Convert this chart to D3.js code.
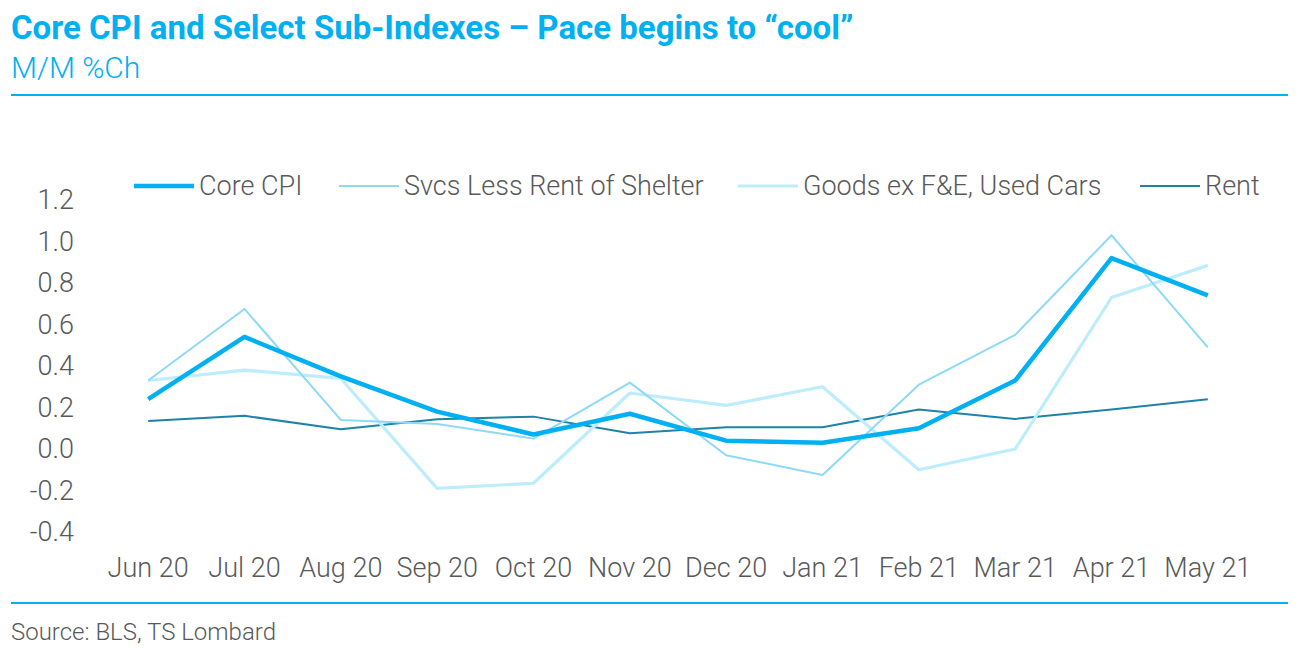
<!DOCTYPE html>
<html>
<head>
<meta charset="utf-8">
<script src="https://cdn.jsdelivr.net/npm/d3@7"></script>
<style>
	body { margin: 0; background: #fff; }
	svg { display: block; font-family: Roboto, "Noto Sans", sans-serif; }
</style>
</head>
<body>
<svg id="chart" width="1298" height="655"></svg>
<script>
"use strict";

// chart data
const months = ["Jun 20", "Jul 20", "Aug 20", "Sep 20", "Oct 20", "Nov 20",
	"Dec 20", "Jan 21", "Feb 21", "Mar 21", "Apr 21", "May 21"];
const coreCpi = [0.24, 0.54, 0.35, 0.18, 0.07, 0.17, 0.04, 0.03, 0.10, 0.33, 0.92, 0.74];
const svcsLessRent = [0.33, 0.675, 0.14, 0.12, 0.05, 0.32, -0.03, -0.125, 0.31, 0.55, 1.03, 0.49];
const goodsExFE = [0.33, 0.38, 0.34, -0.19, -0.165, 0.27, 0.21, 0.30, -0.10, 0.0, 0.73, 0.885];
const rent = [0.135, 0.16, 0.095, 0.143, 0.156, 0.076, 0.105, 0.105, 0.19, 0.145, 0.19, 0.24];
const yTicks = [-0.4, -0.2, 0.0, 0.2, 0.4, 0.6, 0.8, 1.0, 1.2];

const series = [
	{ name: "Core CPI", values: coreCpi, color: "#00b0f0", width: 4.5, lx: 134 },
	{ name: "Svcs Less Rent of Shelter", values: svcsLessRent, color: "#8dd9f8", width: 2, lx: 339 },
	{ name: "Goods ex F&E, Used Cars", values: goodsExFE, color: "#bdedfc", width: 3.2, lx: 738 },
	{ name: "Rent", values: rent, color: "#1e83a6", width: 2, lx: 1140 }
];

const svg = d3.select("#chart");
const textGray = "#595959";

// header
svg.append("text")
	.attr("x", 11).attr("y", 39)
	.attr("fill", "#00b0f0")
	.attr("font-size", 33).attr("font-weight", 700)
	.text("Core CPI and Select Sub-Indexes \u2013 Pace begins to \u201ccool\u201d");
svg.append("text")
	.attr("x", 11).attr("y", 78)
	.attr("fill", "#00b0f0")
	.attr("font-size", 30).attr("font-weight", 300)
	.text("M/M %Ch");
svg.append("line")
	.attr("x1", 11).attr("x2", 1288).attr("y1", 95).attr("y2", 95)
	.attr("stroke", "#00b0f0").attr("stroke-width", 2);

// footer
svg.append("line")
	.attr("x1", 11).attr("x2", 1288).attr("y1", 603).attr("y2", 603)
	.attr("stroke", "#00b0f0").attr("stroke-width", 2);
svg.append("text")
	.attr("x", 11).attr("y", 640)
	.attr("fill", textGray)
	.attr("font-size", 24).attr("font-weight", 300)
	.text("Source: BLS, TS Lombard");

// scales
const x = d3.scaleBand().domain(months).range([100, 1256]);
const y = d3.scaleLinear().domain([-0.4, 1.2]).range([532, 200]);
const cx = (m) => x(m) + x.bandwidth() / 2;

// y axis
const yAxis = svg.append("g")
	.attr("transform", "translate(74,0)")
	.call(d3.axisLeft(y).tickValues(yTicks).tickFormat((d) => d3.format(".1f")(d).replace("\u2212", "-")).tickSize(0).tickPadding(0));
yAxis.select(".domain").remove();
yAxis.selectAll("text")
	.attr("fill", textGray)
	.attr("font-size", 27).attr("font-weight", 300)
	.attr("font-family", "Roboto, sans-serif");

// x axis
const xAxis = svg.append("g")
	.attr("transform", "translate(0,558)")
	.call(d3.axisBottom(x).tickSize(0).tickPadding(0));
xAxis.select(".domain").remove();
xAxis.selectAll("text")
	.attr("fill", textGray)
	.attr("font-size", 27).attr("font-weight", 300)
	.attr("font-family", "Roboto, sans-serif")
	.attr("dy", "0.7em");

// lines, drawn in reverse so Core CPI sits on top
const line = d3.line()
	.x((d, i) => cx(months[i]))
	.y((d) => y(d));

svg.append("g")
	.selectAll("path")
	.data(series.slice().reverse())
	.enter()
	.append("path")
	.attr("d", (s) => line(s.values))
	.attr("fill", "none")
	.attr("stroke", (s) => s.color)
	.attr("stroke-width", (s) => s.width)
	.attr("stroke-linejoin", "round");

// legend
const legend = svg.append("g")
	.selectAll("g")
	.data(series)
	.enter()
	.append("g")
	.attr("transform", (s) => "translate(" + s.lx + ",186)");
legend.append("line")
	.attr("x1", 0).attr("x2", 60)
	.attr("stroke", (s) => s.color)
	.attr("stroke-width", (s) => s.width);
legend.append("text")
	.attr("x", 65).attr("dy", "0.35em")
	.attr("fill", textGray)
	.attr("font-size", 27).attr("font-weight", 300)
	.text((s) => s.name);
</script>
</body>
</html>
